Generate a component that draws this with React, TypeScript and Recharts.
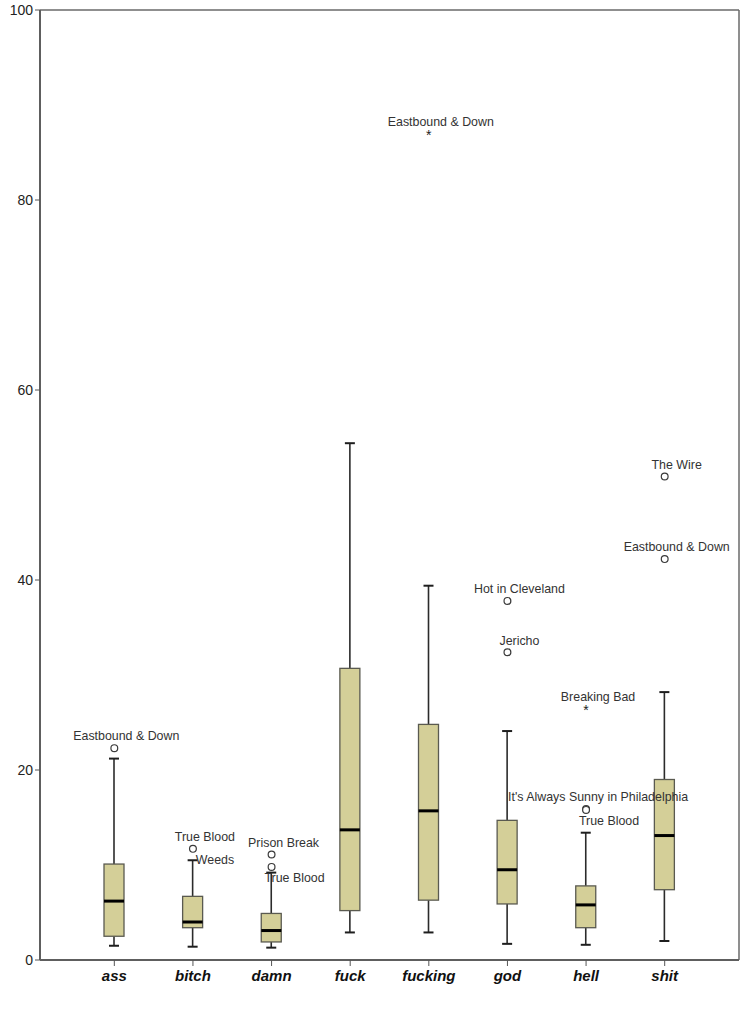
import React from 'react';
import { ComposedChart, Bar, Scatter, XAxis, YAxis, CartesianGrid } from 'recharts';

const CATEGORIES = ['ass', 'bitch', 'damn', 'fuck', 'fucking', 'god', 'hell', 'shit'];
const WHISKER_LOW = [1.5, 1.4, 1.3, 2.9, 2.9, 1.7, 1.6, 2.0];
const Q1 = [2.5, 3.4, 1.9, 5.2, 6.3, 5.9, 3.4, 7.4];
const MEDIAN = [6.2, 4.0, 3.1, 13.7, 15.7, 9.5, 5.8, 13.1];
const Q3 = [10.1, 6.7, 4.9, 30.7, 24.8, 14.7, 7.8, 19.0];
const WHISKER_HIGH = [21.2, 10.5, 9.2, 54.4, 39.4, 24.1, 13.4, 28.2];

const OUTLIER_CATS = ['ass', 'bitch', 'bitch', 'damn', 'damn', 'fucking', 'god', 'god', 'hell', 'hell', 'hell', 'shit', 'shit'];
const OUTLIER_VALUES = [22.3, 11.7, 10.5, 11.1, 9.8, 87.0, 37.8, 32.4, 26.5, 15.9, 15.8, 50.9, 42.2];
const OUTLIER_LABELS = [
  'Eastbound & Down', 'True Blood', 'Weeds', 'Prison Break', 'True Blood', 'Eastbound & Down',
  'Hot in Cleveland', 'Jericho', 'Breaking Bad', "It's Always Sunny in Philadelphia", 'True Blood',
  'The Wire', 'Eastbound & Down',
];
// 'o' = mild outlier, '*' = extreme, '' = label only (marker hidden under whisker cap)
const OUTLIER_MARKS = ['o', 'o', '', 'o', 'o', '*', 'o', 'o', '*', 'o', 'o', 'o', 'o'];
const LABEL_SIDE = ['above', 'above', 'right', 'above', 'below', 'above', 'above', 'above', 'above', 'above', 'below', 'above', 'above'];

const Y_TICKS = [0, 20, 40, 60, 80, 100];

const FONT = '"Liberation Sans", Arial, sans-serif';
const BOX_FILL = '#d4cf98';
const SLOTS = ['o1', 'o2', 'o3'];

const rows = CATEGORIES.map((cat, i) => {
  const row: Record<string, any> = {
    cat,
    range: [WHISKER_LOW[i], WHISKER_HIGH[i]],
    low: WHISKER_LOW[i],
    q1: Q1[i],
    med: MEDIAN[i],
    q3: Q3[i],
    high: WHISKER_HIGH[i],
  };
  let slot = 0;
  OUTLIER_CATS.forEach((c, j) => {
    if (c !== cat) return;
    const k = SLOTS[slot++];
    row[k] = OUTLIER_VALUES[j];
    row[k + 'Label'] = OUTLIER_LABELS[j];
    row[k + 'Mark'] = OUTLIER_MARKS[j];
    row[k + 'Side'] = LABEL_SIDE[j];
  });
  return row;
});

function BoxShape(props: any) {
  const { x, y, width, height, payload } = props;
  if (payload == null || !isFinite(y)) return <g />;
  const { low, high, q1, med, q3 } = payload;
  const bottom = y + height;
  const py = (v: number) => bottom - ((v - low) / (high - low)) * height;
  const cx = x + width / 2;
  const cap = 5;
  return (
    <g>
      <line x1={cx} x2={cx} y1={py(high)} y2={py(q3)} stroke="#2b2b2b" strokeWidth={1.6} />
      <line x1={cx} x2={cx} y1={py(q1)} y2={py(low)} stroke="#2b2b2b" strokeWidth={1.6} />
      <line x1={cx - cap} x2={cx + cap} y1={py(high)} y2={py(high)} stroke="#1e1e1e" strokeWidth={2} />
      <line x1={cx - cap} x2={cx + cap} y1={py(low)} y2={py(low)} stroke="#1e1e1e" strokeWidth={2} />
      <rect x={x} y={py(q3)} width={width} height={py(q1) - py(q3)} fill={BOX_FILL} stroke="#5a5a50" strokeWidth={1.3} />
      <line x1={x} x2={x + width} y1={py(med)} y2={py(med)} stroke="#000" strokeWidth={3} />
    </g>
  );
}

const makeOutlierShape = (slot: string) => (props: any) => {
  const { cx, cy, payload } = props;
  if (payload == null || payload[slot] == null || !isFinite(cy)) return <g />;
  const mark = payload[slot + 'Mark'];
  const side = payload[slot + 'Side'];
  let dx = 12;
  let dy = -12;
  if (side === 'below') { dx = 23; dy = 11; }
  if (side === 'right') { dx = 22; dy = -1; }
  return (
    <g>
      {mark === 'o' && <circle cx={cx} cy={cy} r={3.4} fill="#fff" stroke="#3a3a3a" strokeWidth={1.2} />}
      {mark === '*' && (
        <text x={cx} y={cy + 6.5} textAnchor="middle" fontFamily={FONT} fontSize={14} fill="#222">*</text>
      )}
      <text x={cx + dx} y={cy + dy + 4.3} textAnchor="middle" fontFamily={FONT} fontSize={12.4} fill="#333">
        {payload[slot + 'Label']}
      </text>
    </g>
  );
};

const XTick = (props: any) => {
  const { x, y, payload } = props;
  return (
    <text x={x} y={y + 13} textAnchor="middle" fontFamily={FONT} fontSize={15} fontWeight="bold" fontStyle="italic" fill="#111">
      {payload.value}
    </text>
  );
};

// frame lines: top edge and right edge of the plot area
const frameTop = ({ offset }: any) => [offset.top];
const frameRight = ({ offset }: any) => [offset.left + offset.width];

export default function App() {
  return (
    <div style={{ width: 748, height: 1024, background: '#fff' }}>
      <style>{'body{margin:0}'}</style>
      <ComposedChart width={748} height={1024} data={rows} margin={{ top: 10, right: 9, left: 0, bottom: 0 }}>
        <CartesianGrid
          horizontalCoordinatesGenerator={frameTop}
          verticalCoordinatesGenerator={frameRight}
          stroke="#6a6a6a"
          strokeWidth={1.5}
          strokeDasharray=""
        />
        <XAxis
          dataKey="cat"
          type="category"
          height={64}
          padding={{ left: 35, right: 35 }}
          tick={<XTick />}
          tickSize={6}
          tickLine={{ stroke: '#555' }}
          axisLine={{ stroke: '#5e5e5e', strokeWidth: 2 }}
        />
        <YAxis
          domain={[0, 100]}
          ticks={Y_TICKS}
          width={40}
          tickSize={5}
          tickLine={{ stroke: '#555' }}
          axisLine={{ stroke: '#5e5e5e', strokeWidth: 2 }}
          tick={{ fontFamily: FONT, fontSize: 14, fill: '#222' }}
          allowDataOverflow
        />
        <Bar dataKey="range" barSize={20} shape={<BoxShape />} isAnimationActive={false} />
        {SLOTS.map((s) => (
          <Scatter key={s} dataKey={s} shape={makeOutlierShape(s)} isAnimationActive={false} />
        ))}
      </ComposedChart>
    </div>
  );
}
